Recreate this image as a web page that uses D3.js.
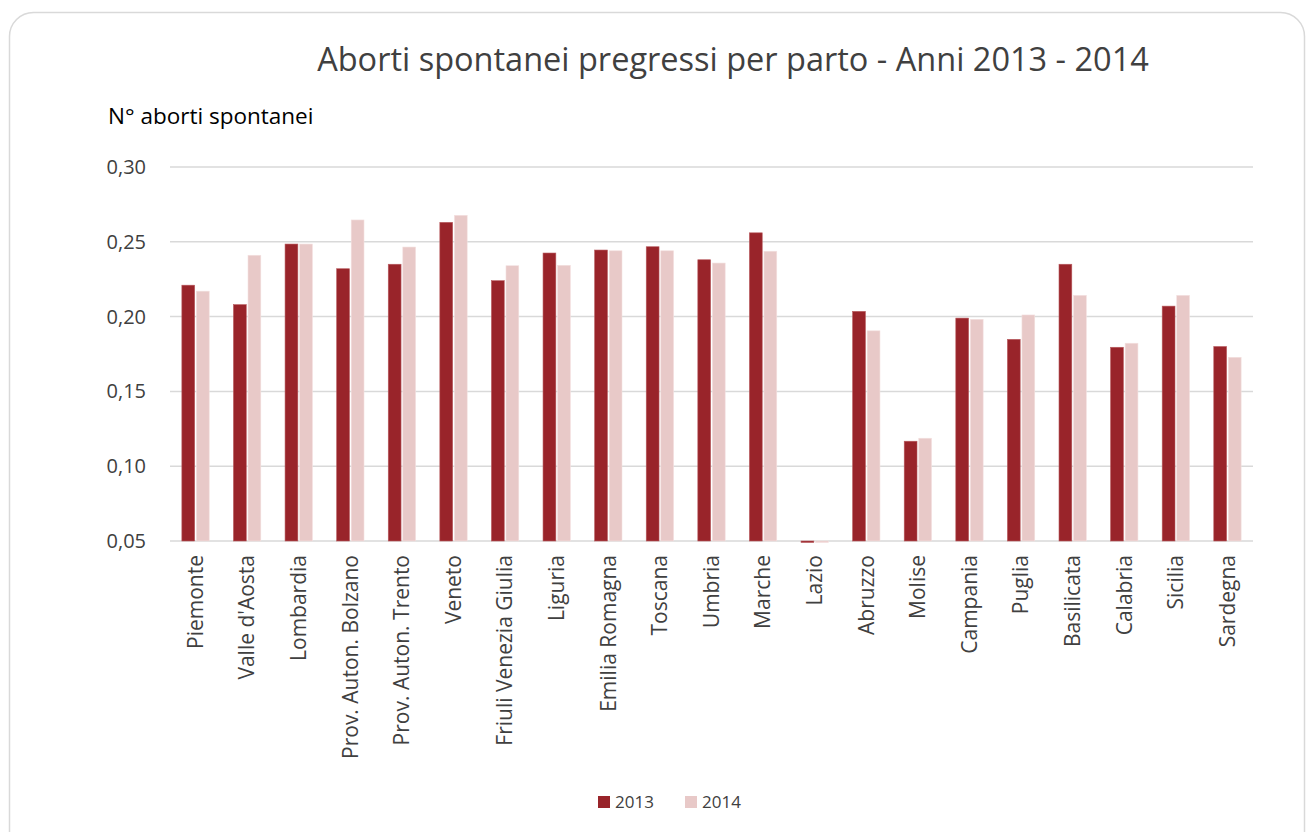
<!DOCTYPE html>
<html>
<head>
<meta charset="utf-8">
<script src="https://cdn.jsdelivr.net/npm/d3@7"></script>
<style>
  html, body { margin: 0; padding: 0; background: #fff; }
  svg { display: block; font-family: "Open Sans", sans-serif; }
</style>
</head>
<body>
<svg id="chart" width="1308" height="832"></svg>
<script>
// Regions and the two survey years
const regions = ["Piemonte", "Valle d'Aosta", "Lombardia", "Prov. Auton. Bolzano", "Prov. Auton. Trento",
  "Veneto", "Friuli Venezia Giulia", "Liguria", "Emilia Romagna", "Toscana", "Umbria", "Marche",
  "Lazio", "Abruzzo", "Molise", "Campania", "Puglia", "Basilicata", "Calabria", "Sicilia", "Sardegna"];
const years = ["2013", "2014"];
const values2013 = [0.221, 0.208, 0.2485, 0.232, 0.235, 0.263, 0.224, 0.2425, 0.2445, 0.2467, 0.238, 0.256,
  0.049, 0.2035, 0.1167, 0.199, 0.1848, 0.235, 0.1795, 0.207, 0.18];
const values2014 = [0.217, 0.241, 0.2485, 0.2646, 0.2465, 0.2677, 0.234, 0.2343, 0.244, 0.244, 0.2358, 0.2437,
  0.049, 0.1905, 0.1187, 0.1982, 0.2011, 0.2142, 0.1822, 0.2142, 0.1728];
const yTicks = [0.05, 0.10, 0.15, 0.20, 0.25, 0.30];
const colors = ["#99242A", "#E8C9C8"];

const FONT = "'Open Sans', sans-serif";
const svg = d3.select("#chart");

// rounded card frame
svg.append("rect")
  .attr("x", 9.5).attr("y", 12.5)
  .attr("width", 1295).attr("height", 860)
  .attr("rx", 24)
  .attr("fill", "#fff")
  .attr("stroke", "#d9d9d9").attr("stroke-width", 1.5);

const plotLeft = 170, plotRight = 1253, plotTop = 167, plotBottom = 541;

const y = d3.scaleLinear().domain([0.05, 0.30]).range([plotBottom, plotTop]);
const x = d3.scaleBand().domain(regions).range([plotLeft, plotRight])
  .paddingInner(0.47).paddingOuter(0.23);
const xs = d3.scaleBand().domain(years).range([0, x.bandwidth()]).paddingInner(0.12);

// horizontal gridlines
svg.append("g")
  .selectAll("line")
  .data(yTicks)
  .join("line")
  .attr("x1", plotLeft).attr("x2", plotRight)
  .attr("y1", d => y(d)).attr("y2", d => y(d))
  .attr("stroke", "#d9d9d9").attr("stroke-width", 1.5);

// y axis labels
const yAxis = d3.axisLeft(y).tickValues(yTicks)
  .tickFormat(d => d3.format(".2f")(d).replace(".", ","))
  .tickSize(0).tickPadding(24);
const gy = svg.append("g").attr("transform", `translate(${plotLeft},0)`).call(yAxis);
gy.select(".domain").remove();
gy.selectAll("text")
  .attr("font-size", 20).attr("fill", "#404040")
  .attr("font-family", FONT);

// bars
const rows = regions.map((r, i) => ({ region: r, vals: [values2013[i], values2014[i]] }));
const groups = svg.append("g").selectAll("g")
  .data(rows)
  .join("g")
  .attr("transform", d => `translate(${x(d.region)},0)`);

groups.selectAll("rect")
  .data(d => d.vals.map((v, k) => ({ year: years[k], v, k })))
  .join("rect")
  .attr("x", d => xs(d.year))
  .attr("width", xs.bandwidth())
  .attr("y", d => Math.min(y(d.v), y(0.05)))
  .attr("height", d => Math.abs(y(0.05) - y(d.v)))
  .attr("fill", d => colors[d.k])
  .attr("stroke", d => d.k === 0 ? "#b85a5e" : "#f3e0df")
  .attr("stroke-width", 0.6);

// x axis category labels (rotated)
const xAxis = d3.axisBottom(x).tickSize(0).tickPadding(0);
const gx = svg.append("g").attr("transform", `translate(0,${plotBottom})`).call(xAxis);
gx.select(".domain").remove();
gx.selectAll("text")
  .attr("font-size", 21).attr("fill", "#404040")
  .attr("font-family", FONT)
  .attr("text-anchor", "end")
  .attr("dy", "0.35em")
  .attr("transform", "translate(0,14) rotate(-90)")
  .attr("x", 0).attr("y", 0);

// title and axis caption
svg.append("text")
  .attr("x", 733).attr("y", 71)
  .attr("text-anchor", "middle")
  .attr("font-size", 32.5).attr("fill", "#404040")
  .text("Aborti spontanei pregressi per parto - Anni 2013 - 2014");

svg.append("text")
  .attr("x", 108).attr("y", 124)
  .attr("font-size", 22.5).attr("fill", "#000")
  .text("N° aborti spontanei");

// legend
const legend = svg.append("g").attr("transform", "translate(598,796)");
const items = legend.selectAll("g")
  .data(years)
  .join("g")
  .attr("transform", (d, i) => `translate(${i * 87},0)`);
items.append("rect")
  .attr("width", 12).attr("height", 12)
  .attr("fill", (d, i) => colors[i]);
items.append("text")
  .attr("x", 17).attr("y", 12)
  .attr("font-size", 17).attr("fill", "#404040")
  .text(d => d);
</script>
</body>
</html>
